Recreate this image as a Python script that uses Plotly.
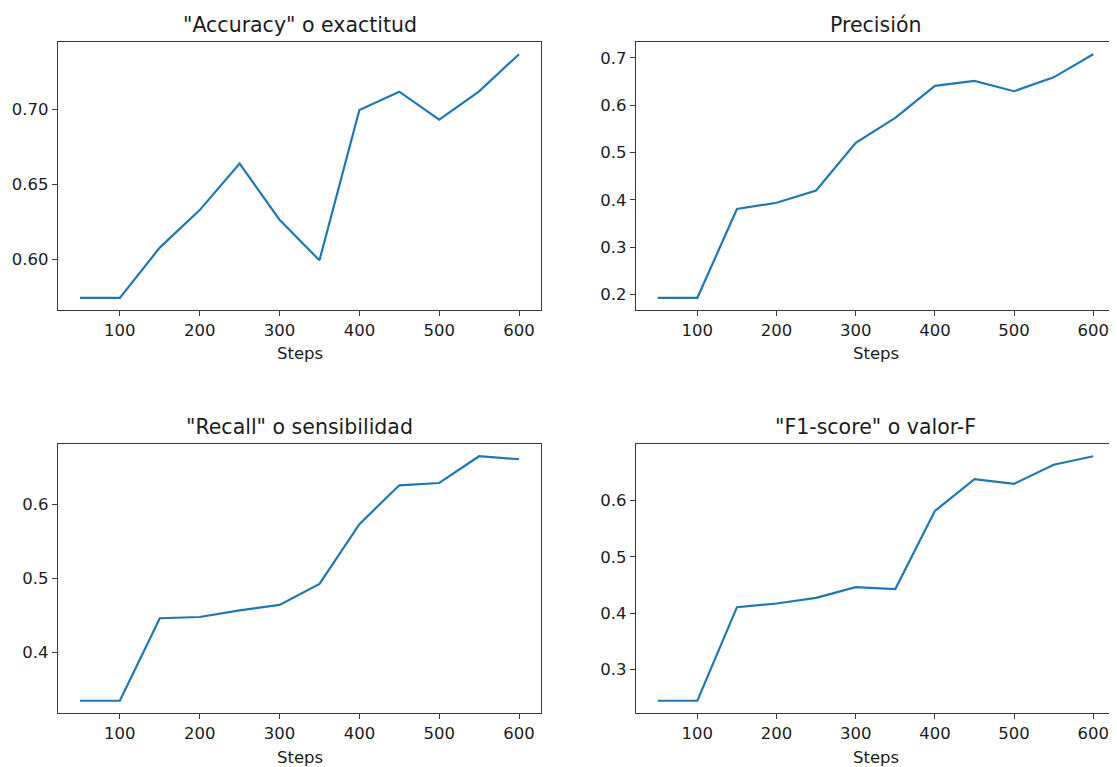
import plotly.graph_objects as go
from plotly.subplots import make_subplots

steps = [50, 100, 150, 200, 250, 300, 350, 400, 450, 500, 550, 600]
accuracy = [0.5745, 0.5745, 0.608, 0.633, 0.664, 0.6266, 0.5995, 0.6998, 0.712, 0.6933, 0.7122, 0.737]
precision = [0.193, 0.193, 0.3807, 0.394, 0.420, 0.5207, 0.5734, 0.641, 0.6515, 0.6297, 0.659, 0.708]
recall = [0.3353, 0.3353, 0.4463, 0.448, 0.457, 0.4643, 0.4926, 0.573, 0.6252, 0.6283, 0.6643, 0.6602]
f1 = [0.245, 0.245, 0.4107, 0.4172, 0.4273, 0.4463, 0.4428, 0.581, 0.6374, 0.6291, 0.663, 0.678]

titles = ['"Accuracy" o exactitud', 'Precisión', '"Recall" o sensibilidad', '"F1-score" o valor-F']
series = [accuracy, precision, recall, f1]
ydticks = [0.05, 0.1, 0.1, 0.1]
yformats = [".2f", ".1f", ".1f", ".1f"]
xlabel = "Steps"

W, H = 1117, 767
OFF = 8  # page body margin offset
# panel boxes in screen pixels (left, right, top, bottom)
boxes = [(58, 541, 42, 310), (636, 1115, 42, 310), (58, 541, 444, 713), (636, 1115, 444, 713)]

FONT = "DejaVu Sans"
TXT = "#1c1c1c"
LINE = "#1f77b4"
SPINE = "#3a3a3a"

fig = make_subplots(rows=2, cols=2)

for i, (ys, title, dt, fmt, box) in enumerate(zip(series, titles, ydticks, yformats, boxes)):
    r, c = i // 2 + 1, i % 2 + 1
    fig.add_trace(go.Scatter(x=steps, y=ys, mode="lines",
                             line=dict(color=LINE, width=2.2), showlegend=False),
                  row=r, col=c)
    l, rr, t, b = [v - OFF for v in box]
    xd = [l / W, rr / W]
    yd = [1 - b / H, 1 - t / H]
    span_x = max(steps) - min(steps)
    xr = [min(steps) - 0.05 * span_x, max(steps) + 0.05 * span_x]
    span_y = max(ys) - min(ys)
    yr = [min(ys) - 0.05 * span_y, max(ys) + 0.05 * span_y]
    axn = "" if i == 0 else str(i + 1)
    fig.layout["xaxis" + axn].update(
        domain=xd, range=xr, dtick=100, tick0=0, showgrid=False, zeroline=False,
        showline=True, mirror=True, linecolor=SPINE, linewidth=1.2, automargin=False,
        ticks="outside", ticklen=5, tickwidth=1, tickcolor=SPINE,
        tickfont=dict(family=FONT, size=16.5, color=TXT))
    fig.layout["yaxis" + axn].update(
        domain=yd, range=yr, dtick=dt, tick0=0, tickformat=fmt, showgrid=False, zeroline=False,
        showline=True, mirror=True, linecolor=SPINE, linewidth=1.2, automargin=False,
        ticks="outside", ticklen=5, tickwidth=1, tickcolor=SPINE,
        tickfont=dict(family=FONT, size=16.5, color=TXT))
    cx = (l + rr) / 2 / W
    fig.add_annotation(text=title, x=cx, y=1 - (t - 17) / H, xref="paper", yref="paper",
                       xanchor="center", yanchor="middle", showarrow=False,
                       font=dict(family=FONT, size=20.5, color=TXT))
    fig.add_annotation(text=xlabel, x=cx, y=1 - (b + 44) / H, xref="paper", yref="paper",
                       xanchor="center", yanchor="middle", showarrow=False,
                       font=dict(family=FONT, size=16.5, color=TXT))

fig.update_layout(width=W, height=H, margin=dict(l=0, r=0, t=0, b=0),
                  paper_bgcolor="white", plot_bgcolor="white")

fig.write_html("out.html")
